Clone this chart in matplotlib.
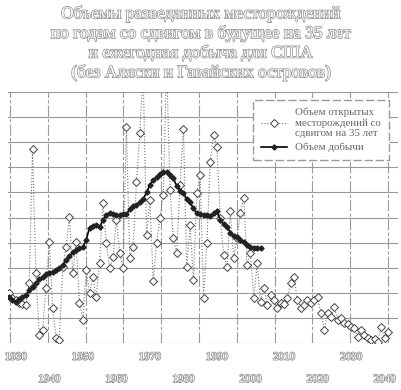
import matplotlib
matplotlib.use("Agg")
import matplotlib.pyplot as plt
import matplotlib.patheffects as pe
import numpy as np

# production, Gb/yr
prod_years = np.arange(1928, 2004)
prod = [0.92, 0.85, 0.82, 0.88, 0.91, 0.95, 1.05, 1.12, 1.20, 1.27,
        1.31, 1.37, 1.40, 1.41, 1.45, 1.49, 1.55, 1.65, 1.73, 1.81,
        1.85, 1.89, 1.91, 2.05, 2.30, 2.34, 2.35, 2.31, 2.45, 2.55,
        2.59, 2.57, 2.55, 2.55, 2.56, 2.57, 2.66, 2.72, 2.75, 2.80,
        2.86, 3.00, 3.15, 3.24, 3.30, 3.36, 3.41, 3.40, 3.35, 3.28,
        3.13, 3.03, 2.98, 2.87, 2.80, 2.68, 2.58, 2.56, 2.55, 2.54,
        2.53, 2.58, 2.62, 2.45, 2.38, 2.31, 2.20, 2.13, 2.11, 2.06,
        2.01, 1.96, 1.92, 1.90, 1.89, 1.90]

# discoveries shifted 35 years, Gb
disc_years = np.arange(1928, 2042)
disc = [1.00, 0.90, 0.85, 0.80, 0.78, 0.76, 1.20, 3.86, 1.40, 0.16,
        0.26, 1.10, 2.01, 0.70, 0.10, 0.06, 1.51, 1.91, 2.51, 1.39,
        2.01, 0.80, 0.46, 1.45, 1.00, 1.31, 0.92, 1.60, 2.79, 1.99,
        1.50, 1.71, 2.45, 1.80, 1.49, 4.30, 1.70, 1.91, 3.21, 4.18,
        5.40, 2.15, 2.85, 1.24, 2.00, 2.49, 2.95, 5.60, 3.05, 2.10,
        1.79, 3.15, 4.26, 1.51, 2.35, 1.25, 2.99, 3.35, 0.90, 1.99,
        3.61, 4.14, 3.90, 2.49, 1.75, 1.51, 2.63, 1.69, 2.10, 2.59,
        2.89, 1.55, 1.79, 0.90, 1.59, 0.82, 1.10, 0.76, 0.95, 0.86,
        0.70, 0.80, 0.78, 0.90, 1.20, 1.31, 0.86, 0.70, 0.75, 0.86,
        0.80, 0.86, 0.92, 0.60, 0.26, 0.60, 0.52, 0.72, 0.46, 0.50,
        0.40, 0.38, 0.32, 0.30, 0.12, 0.26, 0.15, 0.10, 0.06, 0.08,
        0.02, 0.32, 0.10, 0.22]

tick_years = list(range(1930, 2050, 10))

title = ("Объемы разведанных месторождений\n"
         "по годам со сдвигом в будущее на 35 лет\n"
         "и ежегодная добыча для США\n"
         "(без Аляски и Гавайских островов)")
disc_label = "Объем открытых\nместорождений со\nсдвигом на 35 лет"
prod_label = "Объем добычи"

hollow = [pe.withStroke(linewidth=1.0, foreground="#8c8c8c")]
serif = ["Liberation Serif", "DejaVu Serif"]

fig = plt.figure(figsize=(4.02, 3.90), dpi=100)
ax = fig.add_axes([0.02, 0.1205, 0.970, 0.6436])

ax.set_xlim(1927.7, 2044.0)
ax.set_ylim(0, 5)

# grid: 11 vertical lines, 11 horizontal lines
ax.set_xticks(np.linspace(1928.3, 2041.0, 11), minor=True)
ax.set_yticks(np.arange(0, 5.01, 0.5))
ax.grid(True, which="minor", axis="x", color="#999999", lw=0.8, ls=(0, (10, 2, 3, 2)))
ax.grid(True, which="major", axis="y", color="#999999", lw=0.8)
ax.tick_params(axis="y", left=False, labelleft=False)
ax.tick_params(axis="x", which="both", length=0)
for s in ax.spines.values():
    s.set_visible(False)

ax.plot(disc_years, disc, ls=":", color="#777777", lw=0.8, marker="D", ms=4,
        mfc="white", mec="#444444", mew=0.7, label=disc_label, zorder=3)
ax.plot(prod_years, prod, ls="-", color="black", lw=1.2, marker="D", ms=2.6,
        mfc="#222222", mec="#222222", label=prod_label, zorder=4)

ax.set_xticks(tick_years)
ax.set_xticklabels([str(y) for y in tick_years], family=serif, fontsize=8,
                   color="white", path_effects=hollow)
for i, t in enumerate(ax.xaxis.get_major_ticks()):
    t.set_pad(7 if i % 2 == 0 else 23)

leg = ax.legend(loc="upper right", bbox_to_anchor=(0.99, 0.99),
                prop={"family": serif, "size": 7.8}, frameon=True, fancybox=False,
                edgecolor="#999999", framealpha=1, borderpad=0.7, labelspacing=0.4,
                handlelength=2.4, handletextpad=0.8)
leg.get_frame().set_linestyle((0, (6, 2)))
for txt in leg.get_texts():
    txt.set_color("#666666")

fig.text(0.5, 0.985, title, ha="center", va="top", family=serif, fontsize=12.5,
         linespacing=1.25, color="white", path_effects=hollow)

fig.savefig("out.png", dpi=100)
